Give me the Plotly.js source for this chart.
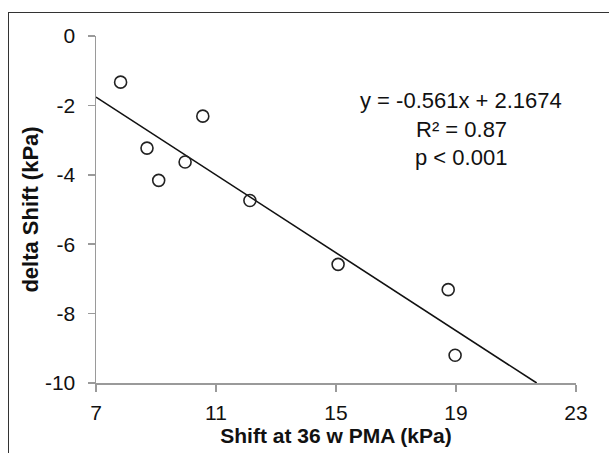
<!DOCTYPE html>
<html><head><meta charset="utf-8">
<script src="https://cdn.plot.ly/plotly-3.0.1.min.js"></script>
<style>
body{margin:0;background:#fff;overflow:hidden}
#frame{position:absolute;left:8px;top:12px;width:700px;height:600px;border:1.5px solid #333;box-sizing:border-box}
#chart{position:absolute;left:0;top:0;width:609px;height:453px}
</style></head>
<body>
<div id="frame"></div>
<div id="chart"></div>
<script>
const shift36 = [7.82, 10.56, 8.70, 9.97, 9.09, 12.13, 15.07, 18.74, 18.97];
const deltaShift = [-1.33, -2.31, -3.23, -3.63, -4.16, -4.74, -6.58, -7.31, -9.20];
const slope = -0.561, intercept = 2.1674;
const fitX = [7, 21.69];
const fitY = fitX.map(x => slope * x + intercept);
const xTicks = [7, 11, 15, 19, 23];
const yTicks = [0, -2, -4, -6, -8, -10];
const annText = ['y = -0.561x + 2.1674', 'R² = 0.87', 'p < 0.001'];

const FONT = 'Liberation Sans, Arial, Helvetica, sans-serif';
const traces = [
  {x: fitX, y: fitY, mode: 'lines', line: {color: '#111', width: 1.6}, hoverinfo: 'skip'},
  {x: shift36, y: deltaShift, mode: 'markers',
   marker: {symbol: 'circle-open', size: 12, color: '#222', line: {width: 1.6, color: '#222'}}}
];
const axisCommon = {showgrid: false, zeroline: false, showline: true, linecolor: '#9a9a9a', linewidth: 1.5,
  ticks: 'outside', tickcolor: '#9a9a9a', tickwidth: 1.5, ticklen: 7,
  tickfont: {family: FONT, size: 21, color: '#111'}};
const layout = {
  width: 609, height: 453,
  paper_bgcolor: 'rgba(0,0,0,0)', plot_bgcolor: 'rgba(0,0,0,0)',
  margin: {l: 96, r: 33, t: 36, b: 70},
  showlegend: false,
  xaxis: Object.assign({}, axisCommon, {range: [7, 23], tickvals: xTicks, ticktext: xTicks.map(String),
    ticklabelstandoff: 3,
    title: {text: 'Shift at 36 w PMA (kPa)', standoff: 4,
      font: {family: FONT, size: 21, color: '#111', weight: 'bold'}}}),
  yaxis: Object.assign({}, axisCommon, {range: [-10, 0], tickvals: yTicks, ticktext: yTicks.map(String),
    ticklabelstandoff: 8,
    title: {text: 'delta Shift (kPa)', standoff: 0,
      font: {family: FONT, size: 22, color: '#111', weight: 'bold'}}}),
  annotations: annText.map((t, i) => ({
    text: t, xref: 'x', yref: 'y', x: 19.17, y: -1.85 - i * 0.83, showarrow: false,
    xanchor: 'center', yanchor: 'middle',
    font: {family: FONT, size: 22, color: '#111'}
  }))
};
Plotly.newPlot('chart', traces, layout, {displayModeBar: false, staticPlot: true});
</script>
</body></html>
